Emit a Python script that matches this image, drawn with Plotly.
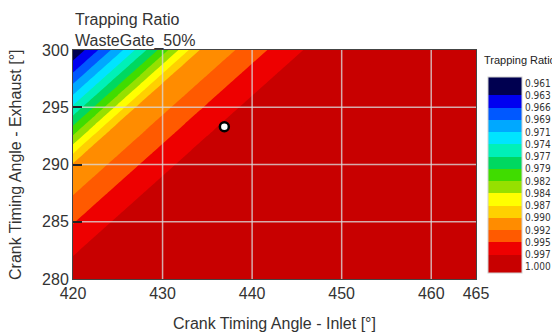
import plotly.graph_objects as go

# Grid of readings: inlet crank angle (columns) x exhaust crank angle (rows)
inlet_angle = [420, 422.5, 425, 427.5, 430, 432.5, 435, 437.5, 440, 442.5, 445, 447.5,
               450, 452.5, 455, 465]
exhaust_angle = [279, 280.75, 282.5, 284.25, 286, 287.75, 289.5, 291.25, 293, 294.75,
                 296.5, 298.25, 300]

# Trapping ratio, one row per exhaust angle (ascending)
tr_279_00 = [0.99950, 0.99990, 1.0, 1.0, 1.0, 1.0, 1.0, 1.0, 1.0, 1.0, 1.0, 1.0, 1.0, 1.0, 1.0, 1.0]
tr_280_75 = [0.99853, 0.99950, 0.99990, 1.0, 1.0, 1.0, 1.0, 1.0, 1.0, 1.0, 1.0, 1.0, 1.0, 1.0, 1.0, 1.0]
tr_282_50 = [0.99695, 0.99853, 0.99950, 0.99990, 1.0, 1.0, 1.0, 1.0, 1.0, 1.0, 1.0, 1.0, 1.0, 1.0, 1.0, 1.0]
tr_284_25 = [0.99538, 0.99695, 0.99853, 0.99950, 0.99990, 1.0, 1.0, 1.0, 1.0, 1.0, 1.0, 1.0, 1.0, 1.0, 1.0, 1.0]
tr_286_00 = [0.99358, 0.99538, 0.99695, 0.99853, 0.99950, 0.99990, 1.0, 1.0, 1.0, 1.0, 1.0, 1.0, 1.0, 1.0, 1.0, 1.0]
tr_287_75 = [0.99174, 0.99358, 0.99538, 0.99695, 0.99853, 0.99950, 0.99990, 1.0, 1.0, 1.0, 1.0, 1.0, 1.0, 1.0, 1.0, 1.0]
tr_289_50 = [0.99144, 0.99174, 0.99358, 0.99538, 0.99695, 0.99853, 0.99950, 0.99990, 1.0, 1.0, 1.0, 1.0, 1.0, 1.0, 1.0, 1.0]
tr_291_25 = [0.98608, 0.99144, 0.99174, 0.99358, 0.99538, 0.99695, 0.99853, 0.99950, 0.99990, 1.0, 1.0, 1.0, 1.0, 1.0, 1.0, 1.0]
tr_293_00 = [0.98034, 0.98608, 0.99144, 0.99174, 0.99358, 0.99538, 0.99695, 0.99853, 0.99950, 0.99990, 1.0, 1.0, 1.0, 1.0, 1.0, 1.0]
tr_294_75 = [0.97517, 0.98034, 0.98608, 0.99144, 0.99174, 0.99358, 0.99538, 0.99695, 0.99853, 0.99950, 0.99990, 1.0, 1.0, 1.0, 1.0, 1.0]
tr_296_50 = [0.97024, 0.97517, 0.98034, 0.98608, 0.99144, 0.99174, 0.99358, 0.99538, 0.99695, 0.99853, 0.99950, 0.99990, 1.0, 1.0, 1.0, 1.0]
tr_298_25 = [0.96561, 0.97024, 0.97517, 0.98034, 0.98608, 0.99144, 0.99174, 0.99358, 0.99538, 0.99695, 0.99853, 0.99950, 0.99990, 1.0, 1.0, 1.0]
tr_300_00 = [0.96140, 0.96561, 0.97024, 0.97517, 0.98034, 0.98608, 0.99144, 0.99174, 0.99358, 0.99538, 0.99695, 0.99853, 0.99950, 0.99990, 1.0, 1.0]
trapping_ratio = [tr_279_00, tr_280_75, tr_282_50, tr_284_25, tr_286_00, tr_287_75, tr_289_50,
                  tr_291_25, tr_293_00, tr_294_75, tr_296_50, tr_298_25, tr_300_00]

# Operating point
op_inlet = [436.9]
op_exhaust = [293.3]

# Contour levels / colour bar labels (top to bottom)
level_labels = ["0.961", "0.963", "0.966", "0.969", "0.971", "0.974", "0.977", "0.979",
                "0.982", "0.984", "0.987", "0.990", "0.992", "0.995", "0.997", "1.000"]
level_min = 0.961
level_max = 1.000
level_step = 0.0026

x_ticks = [420, 430, 440, 450, 460, 465]
y_ticks = [280, 285, 290, 295, 300]
x_grid = [430, 440, 450, 460]
y_grid = [285, 290, 295]

# band colours from 1.000 (bottom) up to 0.961 (top)
band_colors = ["#c80000", "#ee0000", "#ff5a00", "#ff8c00", "#ffd000", "#ffff00",
               "#96e000", "#40dc00", "#00d860", "#00f0b8", "#00e4ff", "#00a8ff",
               "#0058ff", "#0000f0", "#000050"]

FONT = "Liberation Sans, Arial, sans-serif"
NARROW = "Liberation Sans Narrow, DejaVu Sans Condensed, Liberation Sans, Arial, sans-serif"
TXT = "#333333"
GRID = "rgba(218,218,218,0.78)"

# the page body adds an 8px margin: lay the figure out in window pixels minus that offset
OFF = 8
W, H = 560 - OFF, 333 - OFF
PLOT_L, PLOT_R, PLOT_T, PLOT_B = 73, 476, 50, 279          # window pixels
L, T = PLOT_L - OFF, PLOT_T - OFF
R, B = W - (PLOT_R - OFF), H - (PLOT_B - OFF)
PW, PH = W - L - R, H - T - B


def px_x(px):
    return (px - PLOT_L) / PW


def px_y(py):
    return (PLOT_B - py) / PH


# colorbar runs top = 0.961 -> bottom = 1.000, so plot the negated ratio
zneg = [[-v for v in row] for row in trapping_ratio]
cols = [band_colors[0]] + band_colors + [band_colors[-1]]
n = len(cols) - 1
colorscale = [[i / n, c] for i, c in enumerate(cols)]
levels = [level_min + i * level_step for i in range(len(level_labels))]

fig = go.Figure()
fig.add_trace(go.Contour(
    x=inlet_angle, y=exhaust_angle, z=zneg,
    colorscale=colorscale,
    contours=dict(start=-level_max, end=-level_min, size=level_step,
                  coloring="fill", showlines=False),
    line=dict(width=0, smoothing=0),
    colorbar=dict(
        x=px_x(488), xanchor="left", y=px_y(175), yanchor="middle",
        xpad=0, ypad=0,
        thickness=34, len=196, lenmode="pixels",
        tickvals=[-v for v in levels], ticktext=level_labels,
        ticks="", tickfont=dict(family=NARROW, size=10, color=TXT),
        outlinewidth=1, outlinecolor="#d0d0d0",
    ),
    hoverinfo="skip",
))
fig.add_trace(go.Scatter(
    x=op_inlet, y=op_exhaust, mode="markers",
    marker=dict(size=9, color="white", line=dict(color="black", width=2.5)),
    showlegend=False, hoverinfo="skip",
))

fig.update_xaxes(range=[420, 465], tickvals=x_ticks, showgrid=False, zeroline=False,
                 showline=True, linecolor="#444", linewidth=1, mirror=True,
                 ticks="", automargin=False,
                 tickfont=dict(family=FONT, size=16, color=TXT))
fig.update_yaxes(range=[280, 300], tickvals=y_ticks, showgrid=False, zeroline=False,
                 showline=True, linecolor="#444", linewidth=1, mirror=True,
                 ticks="inside", ticklen=9, tickwidth=1.5, tickcolor="#222",
                 automargin=False, layer="above traces",
                 tickfont=dict(family=FONT, size=16, color=TXT))

shapes = []
for gx in x_grid:
    shapes.append(dict(type="line", xref="x", yref="paper", x0=gx, x1=gx, y0=0, y1=1,
                       line=dict(color=GRID, width=1.5), layer="above"))
for gy in y_grid:
    shapes.append(dict(type="line", xref="paper", yref="y", x0=9 / PW, x1=1, y0=gy, y1=gy,
                       line=dict(color=GRID, width=1.5), layer="above"))

annotations = [
    dict(text="Trapping Ratio<br>WasteGate_50%", xref="paper", yref="paper",
         x=px_x(73), y=px_y(31), xanchor="left", yanchor="middle", showarrow=False,
         align="left", font=dict(family=FONT, size=16, color=TXT)),
    dict(text="Crank Timing Angle - Inlet [°]", xref="paper", yref="paper",
         x=0.5, y=px_y(323), xanchor="center", yanchor="middle", showarrow=False,
         font=dict(family=FONT, size=16, color=TXT)),
    dict(text="Crank Timing Angle - Exhaust [°]", xref="paper", yref="paper",
         x=px_x(15.5), y=0.5, xanchor="center", yanchor="middle", showarrow=False,
         textangle=-90, font=dict(family=FONT, size=16, color=TXT)),
    dict(text="Trapping Ratio", xref="paper", yref="paper",
         x=px_x(520), y=px_y(60), xanchor="center", yanchor="middle", showarrow=False,
         font=dict(family=FONT, size=11, color="#222")),
]

fig.update_layout(
    width=W, height=H,
    margin=dict(l=L, r=R, t=T, b=B, autoexpand=False),
    paper_bgcolor="white", plot_bgcolor="white",
    showlegend=False,
    shapes=shapes,
    annotations=annotations,
)

fig.write_html("out.html")
